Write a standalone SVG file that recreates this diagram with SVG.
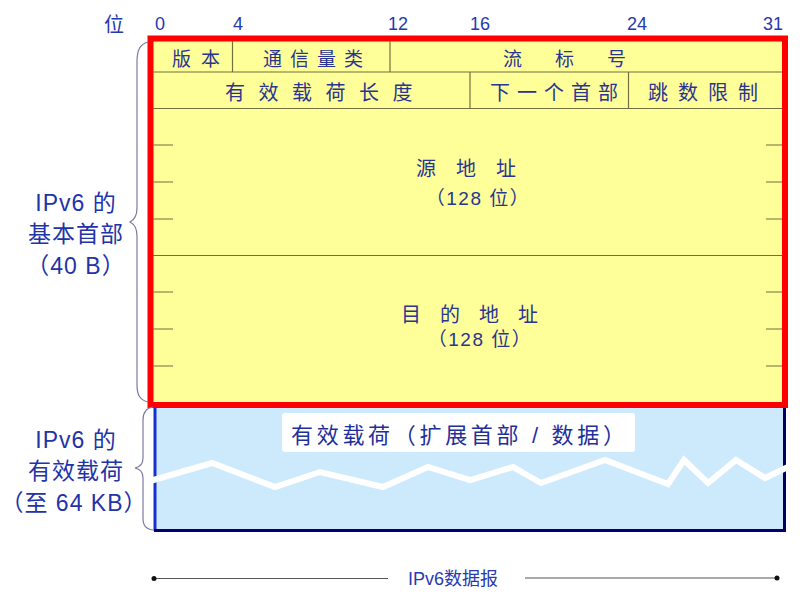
<svg xmlns="http://www.w3.org/2000/svg" width="800" height="610" viewBox="0 0 800 610">
<style>
text{font-family:"Liberation Sans","Noto Sans CJK SC",sans-serif}
.num{font-size:18px;fill:#2438b0;text-anchor:middle}
.f1{font-size:19px;fill:#2a3592}
.f2{font-size:20px;fill:#2a3592}
.addr{font-size:20px;fill:#2a3592;text-anchor:middle}
.bits{font-size:19px;fill:#2a3592;text-anchor:middle;letter-spacing:1.5px}
.side{font-size:23px;fill:#2233aa;text-anchor:middle;letter-spacing:1px}
.grid{stroke:#707040;stroke-width:1.2;fill:none}
.brace{stroke:#7a7aa0;stroke-width:1.2;fill:none}
</style>
<rect width="800" height="610" fill="#ffffff"/>

<g id="bit-scale">
<text x="114" y="32" class="num" style="font-size:20px">位</text>
<text x="160" y="30" class="num">0</text>
<text x="238" y="30" class="num">4</text>
<text x="398" y="30" class="num">12</text>
<text x="480" y="30" class="num">16</text>
<text x="637" y="30" class="num">24</text>
<text x="773" y="30" class="num">31</text>
</g>

<g id="payload">
<rect x="154" y="406" width="631" height="125" fill="#cceafc"/>
<path d="M155 406 V531" stroke="#1a2fd0" stroke-width="3"/>
<path d="M154 530.5 H786" stroke="#000070" stroke-width="3"/>
<path d="M784.5 406 V531" stroke="#000060" stroke-width="3"/>
<path d="M150 481 L212 463 L275 487 L320 472 L383 487 L428 467 L470 480 L513 467 L541 483 L605 460 L668 484 L684 460 L708 483 L736 460 L765 478 L790 466" stroke="#ffffff" stroke-width="6" fill="none" stroke-linejoin="miter"/>
<rect x="282" y="413" width="353" height="39" rx="3" fill="#ffffff"/>
<text x="291" y="443" style="font-size:22px;fill:#1f2f9c" textLength="334" lengthAdjust="spacing">有效载荷（扩展首部 / 数据）</text>
</g>

<g id="header">
<rect x="150.5" y="38.5" width="634.5" height="366.5" fill="#ffff99" stroke="#ff0000" stroke-width="6"/>
</g>

<g id="grid" class="grid">
<path d="M153 72 H782 M153 108.5 H782 M153 255.5 H782"/>
<path d="M232.5 41 V72 M390 41 V72 M470 72 V108.5 M628.5 72 V108.5"/>
<path d="M153 145 H173 M153 182 H173 M153 219 H173 M153 292 H173 M153 329 H173 M153 366 H173"/>
<path d="M766 145 H782 M766 182 H782 M766 219 H782 M766 292 H782 M766 329 H782 M766 366 H782"/>
</g>

<g id="field-version"><text x="172" y="66" class="f1" letter-spacing="10">版本</text></g>
<g id="field-class"><text x="263" y="66" class="f1" letter-spacing="8">通信量类</text></g>
<g id="field-flow"><text x="503" y="66" class="f1" letter-spacing="33">流标号</text></g>
<g id="field-length"><text x="225" y="100" class="f2" letter-spacing="13.5">有效载荷长度</text></g>
<g id="field-next"><text x="490" y="100" class="f2" letter-spacing="7">下一个首部</text></g>
<g id="field-hop"><text x="648" y="100" class="f2" letter-spacing="10">跳数限制</text></g>

<g id="field-src">
<text x="476" y="176" class="addr" letter-spacing="20">源地址</text>
<text x="478" y="205" class="bits">（128 位）</text>
</g>
<g id="field-dst">
<text x="479" y="322" class="addr" letter-spacing="19">目的地址</text>
<text x="480" y="346" class="bits">（128 位）</text>
</g>

<g id="label-header">
<path class="brace" d="M148 42 C140 44 137 50 137 62 L137 208 C137 216 134 220 130 222 C134 224 137 228 137 236 L137 385 C137 395 140 400 148 402"/>
<text x="76" y="211" class="side">IPv6 的</text>
<text x="76" y="242" class="side">基本首部</text>
<text x="76" y="274" class="side">（40 B）</text>
</g>

<g id="label-payload">
<path class="brace" d="M153 407 C146 408 143 412 143 420 L143 458 C143 464 140 467 135 468 C140 469 143 472 143 478 L143 518 C143 526 146 529 153 530"/>
<text x="76" y="448" class="side">IPv6 的</text>
<text x="76" y="479" class="side">有效载荷</text>
<text x="74" y="511" class="side">（至 64 KB）</text>
</g>

<g id="connectors">
<path d="M154 578.5 H388 M525 578 H777" stroke="#555555" stroke-width="1.2" fill="none"/>
<circle cx="154" cy="578.5" r="2.5" fill="#111111"/>
<circle cx="777" cy="578" r="2.5" fill="#111111"/>
<text x="453" y="585" style="font-size:18px;fill:#2a3ab0;text-anchor:middle">IPv6数据报</text>
</g>
</svg>
